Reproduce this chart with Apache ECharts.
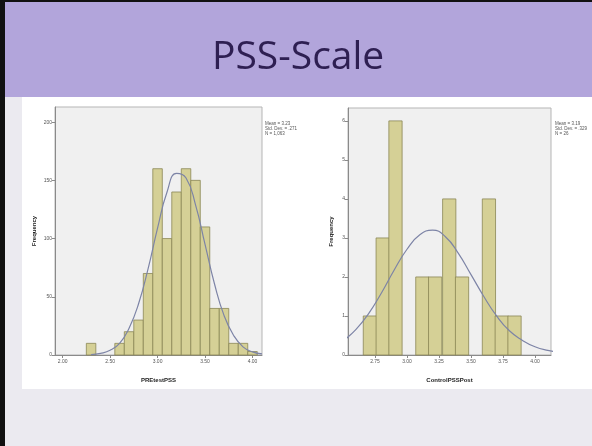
<!DOCTYPE html>
<html>
<head>
<meta charset="utf-8">
<script src="https://cdn.jsdelivr.net/npm/echarts@6/dist/echarts.min.js"></script>
<style>
  html, body { margin: 0; padding: 0; background: #ebeaf0; }
  #chart { width: 592px; height: 446px; }
</style>
</head>
<body>
<div id="chart"></div>
<script>
// left histogram: PREtestPSS
const preBinCenters = [2.3, 2.6, 2.7, 2.8, 2.9, 3.0, 3.1, 3.2, 3.3, 3.4, 3.5, 3.6, 3.7, 3.8, 3.9, 4.0]
const preCounts = [10, 10, 20, 30, 70, 160, 100, 140, 160, 150, 110, 40, 40, 10, 10, 3]
const preBinWidth = 0.1
const preCurveX = [2.3, 2.4, 2.5, 2.6, 2.7, 2.8, 2.9, 3.0, 3.1, 3.2, 3.3, 3.4, 3.5, 3.6, 3.7, 3.8, 3.9, 4.0, 4.1]
const preCurveY = [0.4, 1.4, 4, 10, 23, 44, 74, 109, 140, 156, 152, 129, 95, 61, 34, 17, 7, 2.7, 0.9]
const preXTicks = [2.0, 2.5, 3.0, 3.5, 4.0]
const preYTicks = [0, 50, 100, 150, 200]
const preStats = ['Mean = 3.23', 'Std. Dev. = .271', 'N = 1,063']

// right histogram: ControlPSSPost
const postBinCenters = [2.71, 2.81, 2.91, 3.02, 3.12, 3.22, 3.33, 3.43, 3.53, 3.64, 3.74, 3.84]
const postCounts = [1, 3, 6, 0, 2, 2, 4, 2, 0, 4, 1, 1]
const postBinWidth = 0.1035
const postCurveX = [2.5, 2.6, 2.7, 2.8, 2.9, 3.0, 3.1, 3.2, 3.3, 3.4, 3.5, 3.6, 3.7, 3.8, 3.9, 4.0, 4.1, 4.2]
const postCurveY = [0.36, 0.65, 1.06, 1.59, 2.18, 2.71, 3.08, 3.2, 3.03, 2.61, 2.06, 1.5, 1.0, 0.62, 0.38, 0.21, 0.12, 0.07]
const postXTicks = [2.75, 3.0, 3.25, 3.5, 3.75, 4.0]
const postYTicks = [0, 1, 2, 3, 4, 5, 6]
const postStats = ['Mean = 3.19', 'Std. Dev. = .329', 'N = 26']

const BAR_FILL = '#d5d096'
const BAR_EDGE = '#8a8656'
const CURVE = '#7d84a6'
const AXIS = '#8a8a8a'
const FONT = 'Liberation Sans'

const chart = echarts.init(document.getElementById('chart'))

const barRenderer = (width) => (params, api) => {
  const x = api.value(0)
  const y = api.value(1)
  if (!y) return null
  const p0 = api.coord([x - width / 2, y])
  const p1 = api.coord([x + width / 2, 0])
  return {
    type: 'rect',
    shape: { x: p0[0], y: p0[1], width: p1[0] - p0[0], height: p1[1] - p0[1] },
    style: { fill: BAR_FILL, stroke: BAR_EDGE, lineWidth: 0.8 },
  }
}

const makeXAxis = (gridIndex, min, max, ticks, name) => ({
  type: 'value',
  gridIndex,
  min,
  max,
  name,
  nameLocation: 'middle',
  nameGap: 22,
  nameTextStyle: { color: '#222', fontSize: 6, fontWeight: 'bold', fontFamily: FONT },
  axisLine: { show: true, onZero: false, lineStyle: { color: AXIS, width: 1 } },
  axisTick: { show: true, length: 3, customValues: ticks, lineStyle: { color: AXIS } },
  axisLabel: {
    customValues: ticks,
    color: '#555',
    fontSize: 5,
    fontFamily: FONT,
    margin: 4,
    formatter: (v) => Number(v).toFixed(2),
  },
  splitLine: { show: false },
})

const makeYAxis = (gridIndex, max, ticks, nameGap) => ({
  type: 'value',
  gridIndex,
  min: 0,
  max,
  name: 'Frequency',
  nameLocation: 'middle',
  nameGap,
  nameRotate: 90,
  nameTextStyle: { color: '#222', fontSize: 6, fontWeight: 'bold', fontFamily: FONT },
  axisLine: { show: true, lineStyle: { color: AXIS, width: 1 } },
  axisTick: { show: true, length: 3, customValues: ticks, lineStyle: { color: AXIS } },
  axisLabel: { customValues: ticks, color: '#555', fontSize: 5, fontFamily: FONT, margin: 3 },
  splitLine: { show: false },
})

const statsText = (left, top, lines) => ({
  type: 'text',
  left,
  top,
  z: 10,
  style: { text: lines.join('\n'), fill: '#555', fontSize: 4.5, lineHeight: 5, fontFamily: FONT },
})

chart.setOption({
  animation: false,
  backgroundColor: '#ebeaf0',
  graphic: [
    { type: 'rect', left: 0, top: 0, shape: { width: 592, height: 97 }, style: { fill: '#b2a5db' }, z: -10 },
    { type: 'rect', left: 0, top: 0, shape: { width: 5, height: 446 }, style: { fill: '#111' }, z: -5 },
    { type: 'rect', left: 0, top: 0, shape: { width: 592, height: 2 }, style: { fill: '#111' }, z: -5 },
    { type: 'rect', left: 22, top: 97, shape: { width: 570, height: 292 }, style: { fill: '#ffffff' }, z: -10 },
    {
      type: 'text',
      left: 212,
      top: 38,
      style: { text: 'PSS-Scale', fill: '#2e1f52', fontSize: 39, fontFamily: 'Open Sans' },
    },
    statsText(265, 121, preStats),
    statsText(555, 121, postStats),
  ],
  grid: [
    { left: 55, top: 107, width: 207, height: 248, show: true, backgroundColor: '#f0f0f0', borderColor: '#b5b5b5', borderWidth: 1 },
    { left: 348, top: 108, width: 203, height: 247, show: true, backgroundColor: '#f0f0f0', borderColor: '#b5b5b5', borderWidth: 1 },
  ],
  xAxis: [
    makeXAxis(0, 1.92, 4.1, preXTicks, 'PREtestPSS'),
    makeXAxis(1, 2.539, 4.125, postXTicks, 'ControlPSSPost'),
  ],
  yAxis: [
    makeYAxis(0, 213, preYTicks, 18),
    makeYAxis(1, 6.33, postYTicks, 14),
  ],
  series: [
    {
      type: 'custom',
      xAxisIndex: 0,
      yAxisIndex: 0,
      renderItem: barRenderer(preBinWidth),
      data: preBinCenters.map((c, i) => [c, preCounts[i]]),
    },
    {
      type: 'line',
      xAxisIndex: 0,
      yAxisIndex: 0,
      smooth: true,
      symbol: 'none',
      lineStyle: { color: CURVE, width: 1.2 },
      data: preCurveX.map((x, i) => [x, preCurveY[i]]),
      z: 5,
    },
    {
      type: 'custom',
      xAxisIndex: 1,
      yAxisIndex: 1,
      renderItem: barRenderer(postBinWidth),
      data: postBinCenters.map((c, i) => [c, postCounts[i]]),
    },
    {
      type: 'line',
      xAxisIndex: 1,
      yAxisIndex: 1,
      smooth: true,
      symbol: 'none',
      lineStyle: { color: CURVE, width: 1.2 },
      data: postCurveX.map((x, i) => [x, postCurveY[i]]),
      z: 5,
    },
  ],
})
</script>
</body>
</html>
